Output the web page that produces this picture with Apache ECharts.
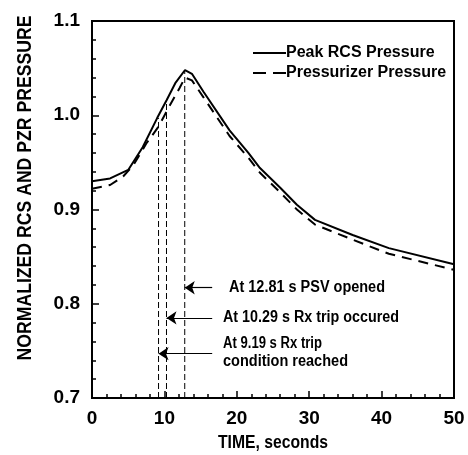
<!DOCTYPE html>
<html>
<head>
<meta charset="utf-8">
<script src="https://cdn.jsdelivr.net/npm/echarts@6/dist/echarts.min.js"></script>
<style>
  html, body { margin: 0; padding: 0; background: #fff; }
  #chart { width: 468px; height: 455px; }
</style>
</head>
<body>
<div id="chart"></div>
<script>
// Peak RCS pressure (solid)
const peakTime = [0, 2.5, 5, 7, 9, 10.3, 11.5, 12.85, 13.8, 15.4, 19, 21.6, 23.2, 26, 28.3, 30.8, 36, 41, 50]
const peakValue = [0.930, 0.933, 0.942, 0.966, 0.997, 1.016, 1.034, 1.048, 1.044, 1.025, 0.984, 0.960, 0.944, 0.923, 0.905, 0.889, 0.873, 0.859, 0.842]

// Pressurizer pressure (dashed)
const pzrTime = [0, 2.5, 4.3, 5.7, 7.5, 9.2, 10.5, 12.1, 12.85, 13.8, 15.4, 19, 21.6, 23.2, 26, 28.3, 30.8, 36, 41, 50]
const pzrValue = [0.922, 0.926, 0.935, 0.947, 0.970, 0.988, 1.007, 1.029, 1.040, 1.037, 1.019, 0.978, 0.955, 0.939, 0.918, 0.900, 0.884, 0.868, 0.853, 0.836]

// events marked with vertical lines and arrows
const eventTime = [12.81, 10.29, 9.19]
const eventTop = [1.048, 1.016, 0.997]
const arrowLevel = [0.817, 0.785, 0.747]
const arrowTail = 16.6
const eventText = [
  ['At 12.81 s PSV opened'],
  ['At 10.29 s Rx trip occured'],
  ['At 9.19 s Rx trip', 'condition reached']
]

const xTicks = [0, 10, 20, 30, 40, 50]
const yTicks = [0.7, 0.8, 0.9, 1.0, 1.1]

const FONT = '"Liberation Sans", Arial, sans-serif'

// squeeze text horizontally to the width it has in the original figure
const measureCtx = document.createElement('canvas').getContext('2d')
function squeeze(text, size, weight, width) {
  measureCtx.font = weight + ' ' + size + 'px ' + FONT
  return width / measureCtx.measureText(text).width
}

function zip(xs, ys) {
  return xs.map((x, i) => [x, ys[i]])
}

const chart = echarts.init(document.getElementById('chart'))

const eventSeries = eventTime.map((t, i) => ({
  type: 'line',
  data: [[t, yTicks[0]], [t, eventTop[i]]],
  symbol: 'none',
  silent: true,
  z: 1,
  lineStyle: { color: '#000', width: 1, type: [6, 3] },
  markLine: {
    silent: true,
    symbol: ['none', 'arrow'],
    symbolSize: 10,
    label: { show: false },
    lineStyle: { color: '#000', width: 1.2, type: 'solid' },
    itemStyle: { color: '#000' },
    data: [[{ coord: [arrowTail, arrowLevel[i]] }, { coord: [t, arrowLevel[i]] }]]
  }
}))

// annotation text lines (pixel layout)
const noteLines = [
  { text: eventText[0][0], x: 229, y: 288, w: 156 },
  { text: eventText[1][0], x: 223, y: 318, w: 176 },
  { text: eventText[2][0], x: 223, y: 344, w: 99 },
  { text: eventText[2][1], x: 223, y: 362, w: 125 }
]

const graphics = noteLines.map(n => ({
  type: 'text',
  x: n.x,
  y: n.y,
  scaleX: squeeze(n.text, 16, 'bold', n.w),
  silent: true,
  style: {
    text: n.text,
    fontSize: 16,
    fontWeight: 'bold',
    fontFamily: FONT,
    fill: '#000',
    align: 'left', textAlign: 'left',
    verticalAlign: 'middle', textVerticalAlign: 'middle'
  }
}))

const xTitle = 'TIME, seconds'
const yTitle = 'NORMALIZED RCS AND PZR PRESSURE'
graphics.push({
  type: 'text',
  x: 273,
  y: 443,
  scaleX: squeeze(xTitle, 19, 'bold', 110),
  silent: true,
  style: {
    text: xTitle, fontSize: 19, fontWeight: 'bold', fontFamily: FONT, fill: '#000',
    align: 'center', textAlign: 'center', verticalAlign: 'middle', textVerticalAlign: 'middle'
  }
})
graphics.push({
  type: 'text',
  x: 25,
  y: 188,
  rotation: Math.PI / 2,
  scaleX: squeeze(yTitle, 20, 'bold', 345),
  silent: true,
  style: {
    text: yTitle, fontSize: 20, fontWeight: 'bold', fontFamily: FONT, fill: '#000',
    align: 'center', textAlign: 'center', verticalAlign: 'middle', textVerticalAlign: 'middle'
  }
})

const option = {
  animation: false,
  backgroundColor: '#fff',
  grid: {
    left: 92, right: 14, top: 21, bottom: 57,
    show: true, borderColor: '#000', borderWidth: 2
  },
  legend: {
    orient: 'vertical',
    left: 247,
    top: 40,
    itemWidth: 33,
    itemHeight: 14,
    itemGap: 4,
    itemStyle: { opacity: 0 },
    data: [
      { name: 'Peak RCS Pressure', lineStyle: { width: 2 } },
      { name: 'Pressurizer Pressure', lineStyle: { width: 2, type: [13, 7] } }
    ],
    textStyle: { fontSize: 16, fontWeight: 'bold', fontFamily: FONT, color: '#000', padding: [0, 0, 0, -5] },
    selectedMode: false
  },
  xAxis: {
    type: 'value',
    min: xTicks[0],
    max: xTicks[xTicks.length - 1],
    interval: xTicks[1] - xTicks[0],
    axisLine: { lineStyle: { color: '#000', width: 2 } },
    axisTick: { inside: true, length: 7, lineStyle: { color: '#000', width: 1.5 } },
    minorTick: { show: true, splitNumber: 5, length: 4, lineStyle: { color: '#000', width: 1.5 } },
    splitLine: { show: false },
    axisLabel: { fontSize: 19, fontWeight: 'bold', fontFamily: FONT, color: '#000', margin: 11 }
  },
  yAxis: {
    type: 'value',
    min: yTicks[0],
    max: yTicks[yTicks.length - 1],
    interval: 0.1,
    axisLine: { lineStyle: { color: '#000', width: 2 } },
    axisTick: { inside: true, length: 7, lineStyle: { color: '#000', width: 1.5 } },
    minorTick: { show: true, splitNumber: 5, length: 4, lineStyle: { color: '#000', width: 1.5 } },
    splitLine: { show: false },
    axisLabel: {
      fontSize: 19, fontWeight: 'bold', fontFamily: FONT, color: '#000', margin: 12,
      formatter: v => v.toFixed(1)
    }
  },
  graphic: graphics,
  series: [
    ...eventSeries,
    {
      name: 'Peak RCS Pressure',
      type: 'line',
      data: zip(peakTime, peakValue),
      symbol: 'none',
      z: 3,
      lineStyle: { color: '#000', width: 2 },
      itemStyle: { color: '#000' }
    },
    {
      name: 'Pressurizer Pressure',
      type: 'line',
      data: zip(pzrTime, pzrValue),
      symbol: 'none',
      z: 3,
      lineStyle: { color: '#000', width: 2, type: [10, 7] },
      itemStyle: { color: '#000' }
    }
  ]
}

chart.setOption(option)
</script>
</body>
</html>
